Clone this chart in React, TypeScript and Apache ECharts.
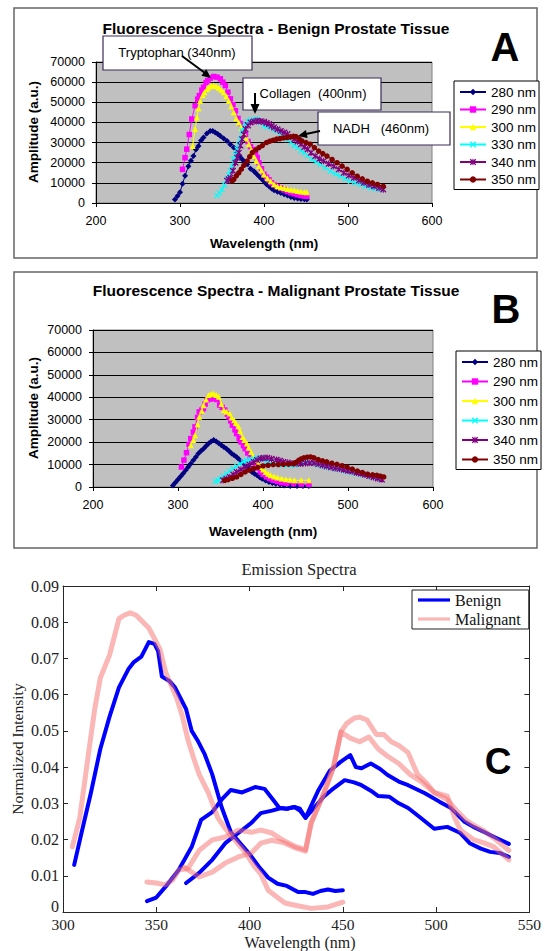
import React, { useEffect, useRef } from "react";
import * as echarts from "echarts";

// ---------------- Panels A & B : excitation wavelengths ----------------
const EXCITATION_NAMES = ["280 nm", "290 nm", "300 nm", "330 nm", "340 nm", "350 nm"];

// Panel A – benign tissue: [emission wavelength (nm), amplitude (a.u.)]
const benign280: [number, number][] = [
  [294, 1700], [297, 3500], [300, 5300], [303, 9500], [306, 13500], [310, 18300], [313, 21000], [316, 23300],
  [319, 26500], [322, 28300], [325, 31000], [328, 32500], [332, 34500], [336, 35800], [339, 35800], [342, 35000],
  [345, 34200], [348, 33300], [352, 32000], [356, 30800], [360, 29000], [364, 27500], [368, 25000], [371, 23300],
  [374, 21700], [377, 20500], [380, 19200], [384, 17000], [388, 15800], [391, 14500], [394, 13300], [397, 12000],
  [400, 10800], [403, 9300], [406, 8300], [409, 7200], [412, 6300], [416, 5600], [420, 5000], [424, 4300],
  [428, 3700], [432, 3000], [436, 2500], [440, 2200], [444, 2000], [448, 1800], [451, 1700],
];
const benign290: [number, number][] = [
  [303, 16700], [306, 22500], [308, 26700], [311, 34000], [314, 41700], [318, 48300], [321, 51500], [323, 53300],
  [326, 56000], [328, 57500], [331, 59800], [333, 60800], [336, 62000], [340, 62800], [344, 62500], [348, 61700],
  [351, 60000], [354, 58300], [357, 55000], [360, 51700], [363, 48800], [366, 45800], [369, 42000], [372, 39500],
  [375, 37000], [378, 34200], [381, 30500], [384, 28000], [387, 26500], [390, 25000], [392, 22500], [394, 20000],
  [397, 17000], [400, 14200], [403, 12800], [406, 11500], [409, 10000], [412, 9000], [416, 8200], [420, 7400],
  [424, 6500], [428, 5700], [432, 5100], [436, 4600], [440, 4100], [444, 3700], [448, 3400], [451, 3300],
];
const benign300: [number, number][] = [
  [315, 28300], [318, 36700], [320, 42500], [322, 47000], [324, 50800], [327, 53500], [329, 55000], [332, 56500],
  [334, 57500], [337, 58200], [340, 58300], [343, 58000], [346, 57200], [349, 56200], [352, 55000], [355, 53000],
  [358, 50800], [361, 48000], [364, 45000], [367, 42000], [370, 40000], [373, 37500], [376, 35000], [379, 32000],
  [382, 29200], [385, 26200], [388, 23300], [391, 20800], [394, 18300], [397, 16200], [400, 14200], [404, 12300],
  [408, 10800], [412, 9300], [416, 8300], [420, 7800], [424, 7400], [428, 7000], [432, 6600], [436, 6300],
  [440, 6000], [444, 5700], [448, 5400], [451, 5300],
];
const benign330: [number, number][] = [
  [344, 3700], [347, 5000], [350, 6700], [353, 9000], [356, 11700], [358, 13800], [360, 15800], [362, 18500],
  [364, 21700], [366, 24000], [368, 26700], [370, 29000], [372, 31700], [374, 35800], [376, 37500], [378, 39200],
  [381, 40500], [384, 41200], [388, 41500], [392, 41700], [396, 40000], [400, 38300], [404, 37800], [408, 37500],
  [412, 36500], [416, 35800], [420, 34500], [424, 33300], [428, 31500], [432, 30000], [436, 28500], [440, 27500],
  [444, 26000], [448, 25000], [452, 23500], [457, 21700], [462, 20500], [467, 19200], [473, 17500], [479, 15800],
  [485, 14500], [491, 13300], [497, 12000], [503, 10800], [509, 10000], [515, 9200], [521, 8300], [527, 7500],
  [533, 7100], [539, 6700],
];
const benign340: [number, number][] = [
  [356, 11000], [358, 11800], [360, 12500], [363, 16000], [366, 20000], [368, 22500], [370, 25000], [372, 28500],
  [374, 31700], [376, 34000], [378, 36700], [381, 38500], [384, 40000], [388, 40500], [392, 40800], [396, 40600],
  [400, 40300], [403, 39700], [406, 39200], [409, 38300], [412, 37500], [416, 36600], [420, 35800], [424, 35000],
  [428, 34200], [432, 32800], [436, 31700], [440, 30500], [444, 29200], [448, 27800], [452, 26700], [456, 25000],
  [461, 23300], [466, 22000], [471, 20800], [477, 19500], [483, 18300], [489, 16700], [495, 15000], [501, 13700],
  [507, 12500], [513, 11200], [519, 10000], [525, 9000], [531, 8300], [537, 7500], [542, 6700],
];
const benign350: [number, number][] = [
  [362, 11000], [364, 11700], [367, 13500], [370, 15000], [373, 16800], [376, 18700], [380, 20800], [383, 23000],
  [386, 25000], [390, 26300], [394, 27500], [398, 28500], [403, 30000], [407, 30700], [411, 31200], [415, 31700],
  [419, 32000], [423, 32300], [427, 32500], [431, 32800], [435, 33100], [438, 33000], [442, 31800], [445, 30800],
  [450, 30000], [455, 29200], [460, 27500], [465, 25800], [470, 24500], [475, 23300], [481, 21600], [487, 20000],
  [493, 18300], [499, 16700], [505, 15000], [511, 13300], [517, 12000], [523, 10800], [529, 10000], [535, 9200],
  [542, 8300],
];

// Panel B – malignant tissue
const malig280: [number, number][] = [
  [294, 700], [297, 2000], [300, 3300], [303, 4700], [306, 6000], [309, 7500], [312, 8900], [315, 10400],
  [318, 11900], [321, 13400], [324, 14900], [327, 16000], [330, 17100], [333, 18300], [336, 19400], [339, 20300],
  [342, 20900], [345, 20300], [348, 19500], [351, 18600], [354, 17800], [357, 17100], [360, 16000], [363, 14900],
  [366, 14200], [369, 13400], [372, 12300], [375, 11200], [378, 10000], [381, 8900], [384, 7800], [387, 6700],
  [390, 5900], [393, 5200], [396, 4400], [399, 3700], [403, 2900], [407, 2200], [411, 1800], [415, 1500],
  [420, 1100], [425, 700], [432, 500], [440, 400], [447, 400], [454, 400],
];
const malig290: [number, number][] = [
  [304, 8900], [307, 12000], [310, 15300], [313, 19000], [315, 21600], [318, 24500], [320, 26800], [323, 31000],
  [325, 33500], [328, 34300], [330, 35000], [332, 37000], [334, 38700], [337, 39200], [340, 39500], [343, 39300],
  [346, 39000], [349, 36500], [352, 35500], [355, 34300], [358, 32500], [360, 31300], [362, 29500], [364, 27600],
  [367, 25500], [369, 23800], [372, 21600], [374, 20100], [377, 18500], [379, 17100], [382, 15200], [385, 13400],
  [388, 11900], [391, 10400], [394, 8500], [397, 6700], [400, 5600], [404, 4500], [408, 3700], [412, 3000],
  [417, 2400], [422, 1900], [428, 1700], [436, 1500], [445, 1300], [454, 1200],
];
const malig300: [number, number][] = [
  [315, 18600], [318, 21000], [320, 23100], [323, 28000], [325, 31300], [328, 34000], [330, 36500], [333, 39000],
  [336, 41000], [339, 41500], [342, 41700], [345, 41000], [348, 40200], [351, 37000], [354, 34300], [357, 33500],
  [361, 32800], [363, 31000], [366, 29800], [368, 28500], [371, 27100], [373, 25000], [376, 22300], [378, 21000],
  [381, 19400], [383, 17500], [386, 15600], [388, 13800], [391, 11900], [394, 10400], [397, 8900], [400, 7800],
  [403, 6700], [406, 5900], [409, 5200], [413, 4700], [417, 4200], [422, 3800], [427, 3400], [432, 3200],
  [437, 3000], [445, 3000], [454, 3000],
];
const malig330: [number, number][] = [
  [344, 2500], [347, 3000], [350, 3700], [353, 4800], [357, 6000], [361, 7100], [365, 8200], [369, 9300],
  [373, 10400], [377, 11200], [381, 11900], [385, 12300], [389, 12700], [393, 12900], [397, 13000], [401, 12200],
  [405, 11400], [409, 10800], [413, 10400], [418, 10100], [423, 9900], [428, 9700], [433, 9700], [438, 9800],
  [442, 10300], [446, 10800], [450, 11200], [455, 10800], [460, 10400], [465, 9900], [470, 9400], [475, 8900],
  [480, 8500], [486, 8100], [491, 7700], [497, 7200], [502, 6700], [507, 6300], [512, 5900], [517, 5500],
  [522, 5200], [527, 4700], [532, 4200], [538, 3700],
];
const malig340: [number, number][] = [
  [353, 3000], [357, 3700], [361, 4500], [365, 5600], [369, 6700], [374, 7800], [379, 8900], [384, 10000],
  [389, 11200], [393, 12000], [397, 12700], [401, 12900], [405, 13000], [410, 12600], [416, 12200], [420, 11700],
  [424, 11200], [429, 10900], [434, 10600], [439, 10500], [444, 10400], [450, 10600], [455, 10700], [460, 10700],
  [465, 10200], [470, 9700], [475, 9200], [480, 8800], [485, 8400], [490, 8100], [495, 7700], [500, 7300],
  [505, 6900], [510, 6400], [515, 6000], [520, 5500], [525, 4900], [530, 4300], [535, 3800], [540, 3300],
];
const malig350: [number, number][] = [
  [355, 3000], [359, 3300], [364, 3900], [369, 4500], [374, 5600], [379, 6700], [384, 7500], [389, 8200],
  [394, 8800], [400, 9400], [406, 9700], [412, 10000], [418, 10000], [424, 10100], [430, 10200], [436, 10400],
  [439, 11000], [442, 11900], [445, 12500], [448, 13000], [452, 13300], [456, 13400], [460, 13000], [465, 12200],
  [470, 11700], [475, 11200], [481, 10600], [487, 10100], [493, 9500], [499, 8900], [505, 8000], [511, 7100],
  [517, 6400], [523, 5700], [529, 5400], [534, 5200], [538, 4800], [542, 4500],
];

// ---------------- Panel C : normalized emission spectra ----------------
const C_NAMES = ["Benign", "Malignant"];
const benignC1: [number, number][] = [
  [306, 0.013], [310, 0.022], [315, 0.033], [320, 0.045], [325, 0.054], [330, 0.062], [335, 0.067], [338, 0.069],
  [342, 0.0705], [346, 0.0745], [349, 0.074], [351, 0.072], [353, 0.065], [357, 0.0638], [360, 0.062], [363, 0.059],
  [366, 0.056], [369, 0.05], [372, 0.0475], [376, 0.0435], [380, 0.038], [385, 0.029], [390, 0.022], [395, 0.019],
  [400, 0.016], [405, 0.0125], [410, 0.0095], [415, 0.0078], [420, 0.0072], [426, 0.0055], [430, 0.0055],
  [434, 0.005], [438, 0.0058], [442, 0.0062], [446, 0.0058], [450, 0.006],
];
const benignC2: [number, number][] = [
  [345, 0.003], [350, 0.004], [355, 0.007], [362, 0.0116], [369, 0.018], [374, 0.0254], [380, 0.0276], [385, 0.031],
  [390, 0.0337], [396, 0.033], [403, 0.0345], [408, 0.034], [412, 0.0314], [416, 0.0287], [420, 0.0285], [424, 0.029],
  [427, 0.0285], [430, 0.026], [437, 0.0337], [443, 0.039], [449, 0.0415], [454, 0.0433], [457, 0.04], [460, 0.0397],
  [465, 0.041], [470, 0.0395], [474, 0.0378], [480, 0.036], [485, 0.035], [494, 0.0328], [502, 0.0304], [508, 0.0287],
  [515, 0.025], [520, 0.0235], [526, 0.022], [532, 0.0205], [539, 0.0188],
];
const benignC3: [number, number][] = [
  [366, 0.008], [373, 0.0108], [380, 0.0144], [387, 0.019], [394, 0.0218], [401, 0.0246], [406, 0.0273], [412, 0.028],
  [417, 0.0287], [420, 0.0285], [424, 0.029], [427, 0.028], [430, 0.026], [435, 0.029], [440, 0.032], [444, 0.0337],
  [451, 0.0364], [456, 0.0358], [460, 0.035], [465, 0.0335], [469, 0.032], [475, 0.0318], [480, 0.03], [485, 0.0287],
  [491, 0.0263], [499, 0.023], [506, 0.0235], [513, 0.0218], [518, 0.019], [524, 0.0175], [529, 0.0166],
  [534, 0.0163], [539, 0.0152],
];
const malignantC1: [number, number][] = [
  [305, 0.018], [309, 0.026], [314, 0.045], [317, 0.056], [320, 0.0646], [325, 0.071], [330, 0.081], [333, 0.082],
  [336, 0.0826], [339, 0.082], [342, 0.0805], [346, 0.0784], [349, 0.0755], [352, 0.0725], [355, 0.0663],
  [358, 0.0625], [361, 0.059], [364, 0.054], [367, 0.0475], [370, 0.0425], [373, 0.038], [378, 0.0328],
  [383, 0.026], [387, 0.023], [391, 0.0205], [398, 0.0163], [402, 0.013], [406, 0.0105], [410, 0.006],
  [415, 0.004], [419, 0.0025], [425, 0.0018], [433, 0.001], [442, 0.0014], [450, 0.0027],
];
const malignantC2: [number, number][] = [
  [345, 0.0083], [350, 0.008], [355, 0.0075], [359, 0.009], [362, 0.0116], [367, 0.012], [373, 0.017], [380, 0.0199],
  [387, 0.0207], [394, 0.0226], [401, 0.022], [406, 0.0226], [412, 0.0218], [418, 0.0198], [424, 0.0182],
  [430, 0.0172], [433, 0.0246], [440, 0.033], [445, 0.04], [449, 0.0497], [452, 0.052], [456, 0.0535], [459, 0.0538],
  [463, 0.053], [468, 0.049], [472, 0.049], [476, 0.047], [480, 0.046], [485, 0.044], [490, 0.038], [495, 0.0355],
  [499, 0.033], [506, 0.032], [510, 0.026], [513, 0.0226], [520, 0.02], [526, 0.019], [531, 0.018], [539, 0.0144],
];
const malignantC3: [number, number][] = [
  [365, 0.0124], [369, 0.011], [373, 0.0097], [380, 0.011], [387, 0.0135], [394, 0.0152], [401, 0.0163], [406, 0.019],
  [412, 0.0198], [418, 0.0192], [424, 0.0178], [430, 0.0168], [433, 0.0246], [440, 0.033], [445, 0.04], [449, 0.0497],
  [454, 0.048], [459, 0.047], [464, 0.0483], [469, 0.045], [474, 0.043], [480, 0.041], [486, 0.038], [492, 0.036],
  [499, 0.033], [506, 0.031], [511, 0.028], [516, 0.0254], [520, 0.024], [525, 0.0226], [532, 0.02], [539, 0.017],
];

// axis ranges
const AB_X = { min: 200, max: 600, step: 100 };
const AB_Y = { min: 0, max: 70000, step: 10000 };
const C_X = { min: 300, max: 550, step: 50 };
const C_Y = { min: 0, max: 0.09, step: 0.01 };

// ---------------- styles ----------------
const SANS = '"Liberation Sans", Arial, sans-serif';
const SERIF = '"Liberation Serif", "Times New Roman", serif';
const EX_COLORS = ["#000080", "#ff00ff", "#ffff00", "#00ffff", "#800080", "#800000"];
const X_MARK = "path://M0,1.4L1.4,0L5,3.6L8.6,0L10,1.4L6.4,5L10,8.6L8.6,10L5,6.4L1.4,10L0,8.6L3.6,5Z";
const STAR_MARK =
  "path://M0,1.4L1.4,0L5,3.6L8.6,0L10,1.4L6.4,5L10,8.6L8.6,10L5,6.4L1.4,10L0,8.6L3.6,5Z M4.2,0H5.8V10H4.2Z";
const EX_SYMBOLS = ["diamond", "rect", "triangle", X_MARK, STAR_MARK, "circle"];
const EX_SIZES = [6, 5.5, 6, 6, 6.5, 5.5];
const BLUE = "#0000ff";
const PINK = "rgba(248,110,110,0.5)";

function excelSeries(data: [number, number][], i: number, axis: number) {
  return {
    name: EXCITATION_NAMES[i],
    type: "line",
    xAxisIndex: axis,
    yAxisIndex: axis,
    data,
    symbol: EX_SYMBOLS[i],
    symbolSize: EX_SIZES[i],
    showSymbol: true,
    color: EX_COLORS[i],
    lineStyle: { color: EX_COLORS[i], width: 1 },
    itemStyle: { color: EX_COLORS[i] },
    silent: true,
    z: 2 + i,
  };
}

function cSeries(name: string, data: [number, number][], color: string, width: number, z: number) {
  return {
    name,
    type: "line",
    xAxisIndex: 2,
    yAxisIndex: 2,
    data,
    symbol: "none",
    showSymbol: false,
    color,
    lineStyle: { color, width, join: "round", cap: "round" },
    itemStyle: { color },
    silent: true,
    z,
  };
}

function excelX(gridIndex: number) {
  return {
    type: "value",
    gridIndex,
    min: AB_X.min,
    max: AB_X.max,
    interval: AB_X.step,
    axisLine: { show: true, onZero: false, lineStyle: { color: "#000", width: 1 } },
    axisTick: { show: true, inside: false, length: 4, lineStyle: { color: "#000" } },
    axisLabel: { color: "#000", fontFamily: SANS, fontSize: 12.5, margin: 11 },
    splitLine: { show: false },
  };
}
function excelY(gridIndex: number) {
  return {
    type: "value",
    gridIndex,
    min: AB_Y.min,
    max: AB_Y.max,
    interval: AB_Y.step,
    axisLine: { show: true, onZero: false, lineStyle: { color: "#000", width: 1 } },
    axisTick: { show: true, inside: false, length: 4, lineStyle: { color: "#000" } },
    axisLabel: { color: "#000", fontFamily: SANS, fontSize: 12.5, margin: 11, formatter: (v: number) => String(v) },
    splitLine: { show: true, lineStyle: { color: "#000", width: 1 } },
  };
}
const M_LINE = { show: true, onZero: false, lineStyle: { color: "#262626", width: 1 } };
const M_TICK = { show: true, inside: true, length: 5, lineStyle: { color: "#262626" } };
function matX(position: string, labels: boolean) {
  return {
    type: "value",
    gridIndex: 2,
    position,
    min: C_X.min,
    max: C_X.max,
    interval: C_X.step,
    axisLine: M_LINE,
    axisTick: M_TICK,
    axisLabel: {
      show: labels, color: "#222", fontFamily: SERIF, fontSize: 15.5, margin: 6, lineHeight: 12,
      showMinLabel: true, showMaxLabel: true,
    },
    splitLine: { show: false },
  };
}
function matY(position: string, labels: boolean) {
  return {
    type: "value",
    gridIndex: 2,
    position,
    min: C_Y.min,
    max: C_Y.max,
    interval: C_Y.step,
    axisLine: M_LINE,
    axisTick: M_TICK,
    axisLabel: {
      show: labels,
      color: "#222",
      fontFamily: SERIF,
      fontSize: 16,
      lineHeight: 12,
      margin: 4,
      showMinLabel: true,
      showMaxLabel: true,
      formatter: (v: number) => (v === 0 ? "{z|0}" : v.toFixed(2)),
      rich: { z: { fontFamily: SERIF, fontSize: 16, color: "#222", lineHeight: 12, padding: [0, 0, 12, 0] } },
    },
    splitLine: { show: false },
  };
}

function txt(text: string, x: number, y: number, font: string, extra: any = {}) {
  return {
    type: "text",
    x,
    y,
    z: 20,
    silent: true,
    ...extra,
    style: {
      text,
      font,
      fill: extra.fill || "#000",
      textAlign: extra.align || "center",
      textVerticalAlign: "middle",
      align: extra.align || "center",
      verticalAlign: "middle",
    },
  };
}
function arrowHead(tip: [number, number], from: [number, number], len = 9, half = 4) {
  const dx = tip[0] - from[0];
  const dy = tip[1] - from[1];
  const d = Math.hypot(dx, dy);
  const ux = dx / d;
  const uy = dy / d;
  const bx = tip[0] - ux * len;
  const by = tip[1] - uy * len;
  return {
    type: "polygon",
    z: 21,
    silent: true,
    shape: { points: [tip, [bx - uy * half, by + ux * half], [bx + uy * half, by - ux * half]] },
    style: { fill: "#000" },
  };
}
function arrowLine(a: [number, number], b: [number, number]) {
  return {
    type: "line",
    z: 21,
    silent: true,
    shape: { x1: a[0], y1: a[1], x2: b[0], y2: b[1] },
    style: { stroke: "#000", lineWidth: 2 },
  };
}
function calloutBox(x: number, y: number, w: number, h: number) {
  return {
    type: "rect",
    z: 19,
    silent: true,
    shape: { x, y, width: w, height: h },
    style: { fill: "#fff", stroke: "#3a2a58", lineWidth: 1.2 },
  };
}

function buildOption() {
  const excelLegend = (left: number, top: number, gap: number) => ({
    orient: "vertical",
    left,
    top,
    data: EXCITATION_NAMES,
    itemWidth: 26,
    itemHeight: 8,
    itemGap: gap,
    itemTextGap: 3,
    padding: [4, 3, 3, 5],
    borderColor: "#000",
    borderWidth: 1,
    backgroundColor: "#fff",
    selectedMode: false,
    textStyle: { fontFamily: SANS, fontSize: 13.5, color: "#000" },
  });

  const titleFont = `bold 15.5px ${SANS}`;
  const axisTitleFont = `bold 13.5px ${SANS}`;
  const letterFont = `bold 40px ${SANS}`;
  const calloutFont = `13px ${SANS}`;

  return {
    animation: false,
    backgroundColor: "#fff",
    grid: [
      { left: 96, top: 62, width: 336, height: 141, show: true, backgroundColor: "#c0c0c0", borderColor: "#808080", borderWidth: 1 },
      { left: 93, top: 330, width: 340, height: 157, show: true, backgroundColor: "#c0c0c0", borderColor: "#808080", borderWidth: 1 },
      { left: 63, top: 586, width: 470, height: 326, show: false },
    ],
    xAxis: [excelX(0), excelX(1), matX("bottom", true), matX("top", false)],
    yAxis: [excelY(0), excelY(1), matY("left", true), matY("right", false)],
    legend: [
      excelLegend(454, 81, 3.5),
      excelLegend(456, 351, 5.5),
      {
        orient: "vertical",
        left: 412,
        top: 590,
        data: C_NAMES,
        icon: "path://M0,0H10V1H0Z",
        itemWidth: 32,
        itemHeight: 4.5,
        itemGap: 3,
        itemTextGap: 4,
        padding: [2, 8, 2, 6],
        borderColor: "#222",
        borderWidth: 1,
        backgroundColor: "#fff",
        selectedMode: false,
        textStyle: { fontFamily: SERIF, fontSize: 16, color: "#111" },
      },
    ],
    series: [
      excelSeries(benign280, 0, 0),
      excelSeries(benign290, 1, 0),
      excelSeries(benign300, 2, 0),
      excelSeries(benign330, 3, 0),
      excelSeries(benign340, 4, 0),
      excelSeries(benign350, 5, 0),
      excelSeries(malig280, 0, 1),
      excelSeries(malig290, 1, 1),
      excelSeries(malig300, 2, 1),
      excelSeries(malig330, 3, 1),
      excelSeries(malig340, 4, 1),
      excelSeries(malig350, 5, 1),
      cSeries(C_NAMES[0], benignC1, BLUE, 4, 3),
      cSeries(C_NAMES[0], benignC2, BLUE, 4, 3),
      cSeries(C_NAMES[0], benignC3, BLUE, 4, 3),
      cSeries(C_NAMES[1], malignantC1, PINK, 5, 4),
      cSeries(C_NAMES[1], malignantC2, PINK, 5, 4),
      cSeries(C_NAMES[1], malignantC3, PINK, 5, 4),
    ],
    graphic: {
      elements: [
        // panel frames
        { type: "rect", silent: true, z: 0, shape: { x: 14, y: 8, width: 523, height: 250 }, style: { fill: "none", stroke: "#666", lineWidth: 1.5 } },
        { type: "rect", silent: true, z: 0, shape: { x: 14, y: 272, width: 523, height: 276 }, style: { fill: "none", stroke: "#666", lineWidth: 1.5 } },
        // panel A texts
        txt("Fluorescence Spectra - Benign Prostate Tissue", 276, 28, titleFont),
        txt("A", 505, 47, letterFont),
        txt("Wavelength (nm)", 264, 243, axisTitleFont),
        txt("Amplitude (a.u.)", 33, 132, axisTitleFont, { rotation: Math.PI / 2 }),
        // panel A callouts
        calloutBox(103, 36, 149, 34),
        txt("Tryptophan (340nm)", 177, 52, calloutFont),
        arrowLine([182, 56], [205, 73]),
        arrowHead([211, 78], [182, 56]),
        calloutBox(243, 78, 138, 32),
        txt("Collagen  (400nm)", 313, 93, calloutFont),
        arrowLine([255, 93], [255, 105]),
        arrowHead([255, 114], [255, 93], 10, 4.5),
        calloutBox(318, 112, 132, 33),
        txt("NADH   (460nm)", 381, 128, calloutFont),
        arrowLine([320, 131], [306, 134]),
        arrowHead([298, 136], [320, 131]),
        // panel B texts
        txt("Fluorescence Spectra - Malignant Prostate Tissue", 276, 290, titleFont),
        txt("B", 506, 309, letterFont),
        txt("Wavelength (nm)", 263, 531, axisTitleFont),
        txt("Amplitude (a.u.)", 33, 408, axisTitleFont, { rotation: Math.PI / 2 }),
        // panel C texts
        txt("Emission Spectra", 299, 569, `16.5px ${SERIF}`, { fill: "#222" }),
        txt("Wavelength (nm)", 300, 942, `16px ${SERIF}`, { fill: "#222" }),
        txt("Normalized Intensity", 17, 749, `15.5px ${SERIF}`, { fill: "#222", rotation: Math.PI / 2 }),
        txt("C", 498, 761, `bold 37px ${SANS}`),
      ],
    },
  };
}

export default function App() {
  const ref = useRef<HTMLDivElement>(null);
  useEffect(() => {
    if (!ref.current) return;
    const chart = echarts.init(ref.current, undefined, { renderer: "svg" });
    chart.setOption(buildOption() as any);
    return () => chart.dispose();
  }, []);
  return (
    <div
      ref={ref}
      style={{ position: "absolute", left: 0, top: 0, width: 544, height: 951, background: "#fff" }}
    />
  );
}
